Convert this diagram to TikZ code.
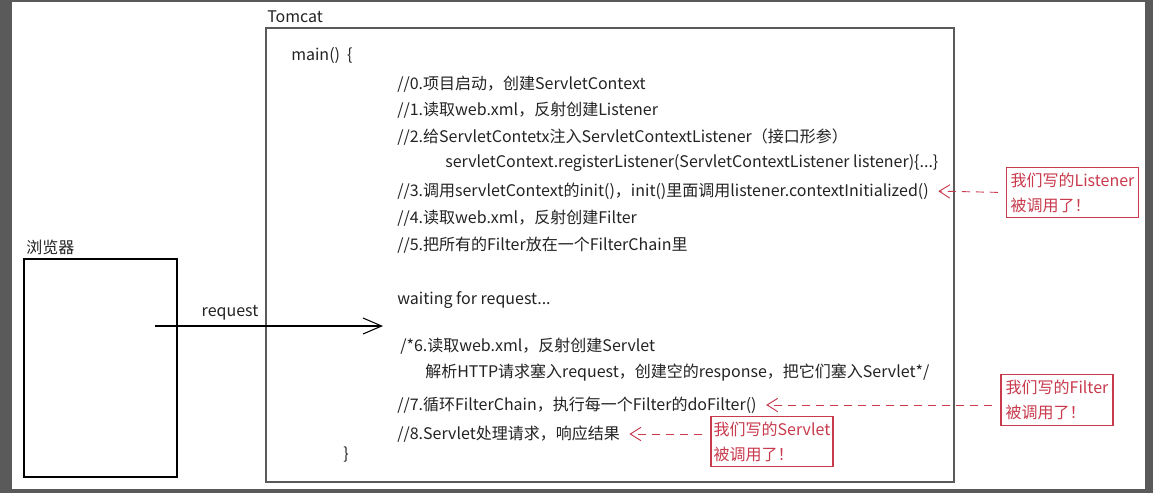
\documentclass[tikz,border=0pt]{standalone}
\usepackage{fontspec}
\setmainfont{Noto Sans CJK SC}
\usetikzlibrary{arrows.meta}
\definecolor{callred}{RGB}{200,58,76}
\definecolor{framegray}{RGB}{90,90,90}
\definecolor{inkgray}{RGB}{35,35,35}
\begin{document}
\begin{tikzpicture}[x=0.75pt,y=-0.75pt,
  every node/.style={font=\fontsize{12}{18.75}\selectfont, inner sep=0pt, text=inkgray},
  code/.style={anchor=west},
  note/.style={draw=callred, line width=0.9pt, text=callred, align=left, minimum height=38pt},
  callarrow/.style={draw=callred, dashed, dash pattern=on 6pt off 4.5pt, line width=0.7pt, -{Straight Barb[length=8pt,width=10pt,line width=0.7pt]}, shorten <=6pt, shorten >=7pt}]
% screenshot frame
\fill[framegray] (0,0) rectangle (1153,493);
\fill[white] (12,2) rectangle (1145,489);
% browser
\node[anchor=west] (browserlabel) at (26,247) {浏览器};
\draw[line width=1.1pt, black] (24,259) rectangle (177,477);
% tomcat
\node[anchor=west] (tomcatlabel) at (267,17) {Tomcat};
\draw[line width=1.4pt, framegray] (266,28) rectangle (954,482);
\node[code] (main) at (291,56) {main()\ \ \{};
\node[code] (l0) at (397,84) {//0.项目启动，创建ServletContext};
\node[code] (l1) at (397,110) {//1.读取web.xml，反射创建Listener};
\node[code] (l2) at (397,137) {//2.给ServletContetx注入ServletContextListener（接口形参）};
\node[code] (l2b) at (445,163) {servletContext.registerListener(ServletContextListener listener)\{...\}};
\node[code] (l3) at (397,191) {//3.调用servletContext的init()，init()里面调用listener.contextInitialized()};
\node[code] (l4) at (397,218) {//4.读取web.xml，反射创建Filter};
\node[code] (l5) at (397,245) {//5.把所有的Filter放在一个FilterChain里};
\node[code] (wait) at (397,300) {waiting for request...};
\node[code] (l6) at (400,346) {/*6.读取web.xml，反射创建Servlet};
\node[code] (l6b) at (425,373) {解析HTTP请求塞入request，创建空的response，把它们塞入Servlet*/};
\node[code] (l7) at (397,405) {//7.循环FilterChain，执行每一个Filter的doFilter()};
\node[code] (l8) at (397,434) {//8.Servlet处理请求，响应结果};
\node[code] (close) at (343,455) {\}};
% request
\coordinate (reqstart) at (155,326);
\coordinate (reqend) at (383,326);
\draw[line width=0.8pt, black, -{Straight Barb[length=14pt,width=12pt,line width=0.8pt]}] (reqstart) -- (reqend);
\node (reqlabel) at (230,313) {request};
% callouts
\node[note, minimum width=99pt] (lisnote) at (1072.5,192.5) {我们写的Listener\\被调用了！};
\node[note, minimum width=84pt] (filnote) at (1057,400) {我们写的Filter\\被调用了！};
\node[note, minimum width=91.5pt] (sernote) at (772,441.5) {我们写的Servlet\\被调用了！};
\draw[callarrow] (lisnote.west) -- (l3.east);
\draw[callarrow] (l7.east -| filnote.west) -- (l7.east);
\draw[callarrow] (l8.east -| sernote.west) -- (l8.east);
\end{tikzpicture}
\end{document}
